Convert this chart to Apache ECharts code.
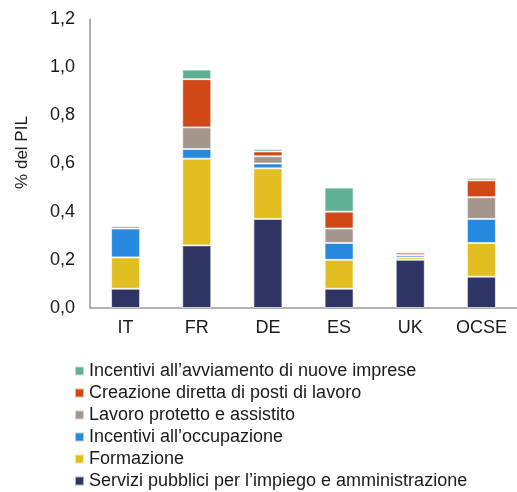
<!DOCTYPE html>
<html>
<head>
<meta charset="utf-8">
<script src="https://cdn.jsdelivr.net/npm/echarts@6/dist/echarts.min.js"></script>
<style>
  html, body { margin: 0; padding: 0; background: #fff; }
  #chart { width: 517px; height: 492px; }
</style>
</head>
<body>
<div id="chart"></div>
<script>
// paesi
const countries = ['IT', 'FR', 'DE', 'ES', 'UK', 'OCSE']
// spesa per programma, % del PIL
const servizi = [0.08, 0.26, 0.37, 0.08, 0.20, 0.13]
const formazione = [0.13, 0.36, 0.21, 0.12, 0.01, 0.14]
const occupazione = [0.12, 0.04, 0.02, 0.07, 0.01, 0.10]
const protetto = [0, 0.09, 0.03, 0.06, 0, 0.09]
const creazione = [0, 0.20, 0.02, 0.07, 0.01, 0.07]
const avviamento = [0.01, 0.04, 0.01, 0.10, 0, 0.01]
const yTicks = ['0,0', '0,2', '0,4', '0,6', '0,8', '1,0', '1,2']

const names = [
  'Servizi pubblici per l\u2019impiego e amministrazione',
  'Formazione',
  'Incentivi all\u2019occupazione',
  'Lavoro protetto e assistito',
  'Creazione diretta di posti di lavoro',
  'Incentivi all\u2019avviamento di nuove imprese'
]
const values = [servizi, formazione, occupazione, protetto, creazione, avviamento]
const colors = ['#2E3464', '#E2BE22', '#2689DE', '#A4968C', '#CF4816', '#5FB196']

const font = 'Liberation Sans, Arial, sans-serif'
const chart = echarts.init(document.getElementById('chart'))

const option = {
  animation: false,
  backgroundColor: '#ffffff',
  color: colors,
  textStyle: { fontFamily: font },
  grid: { left: 90, right: 0, top: 19, bottom: 184 },
  legend: {
    orient: 'vertical',
    left: 74,
    top: 361,
    height: 135,
    padding: 0,
    icon: 'rect',
    itemWidth: 9,
    itemHeight: 9,
    itemGap: 2,
    data: names.slice().reverse(),
    textStyle: { fontSize: 18, color: '#1a1a1a', lineHeight: 20, fontFamily: font }
  },
  xAxis: {
    type: 'category',
    data: countries,
    axisLine: { lineStyle: { color: '#999', width: 1.5 } },
    axisTick: { show: false },
    axisLabel: { fontSize: 18, color: '#1a1a1a', margin: 11, fontFamily: font }
  },
  yAxis: {
    type: 'value',
    min: 0,
    max: 1.2,
    interval: 0.2,
    name: '% del PIL',
    nameLocation: 'middle',
    nameGap: 59,
    nameTextStyle: { fontSize: 17, color: '#1a1a1a', fontFamily: font, padding: [0, 0, 0, 22] },
    axisLine: { show: true, lineStyle: { color: '#999', width: 1.5 } },
    axisTick: { show: false },
    splitLine: { show: false },
    axisLabel: {
      fontSize: 18, color: '#1a1a1a', margin: 15, fontFamily: font,
      formatter: function (v) { return yTicks[Math.round(v / 0.2)] }
    }
  },
  series: names.map(function (n, i) {
    return {
      name: n,
      type: 'bar',
      stack: 'tot',
      barWidth: 29,
      data: values[i],
      itemStyle: { borderColor: 'rgba(255,255,255,0.6)', borderWidth: 1 }
    }
  })
}
chart.setOption(option)
</script>
</body>
</html>
